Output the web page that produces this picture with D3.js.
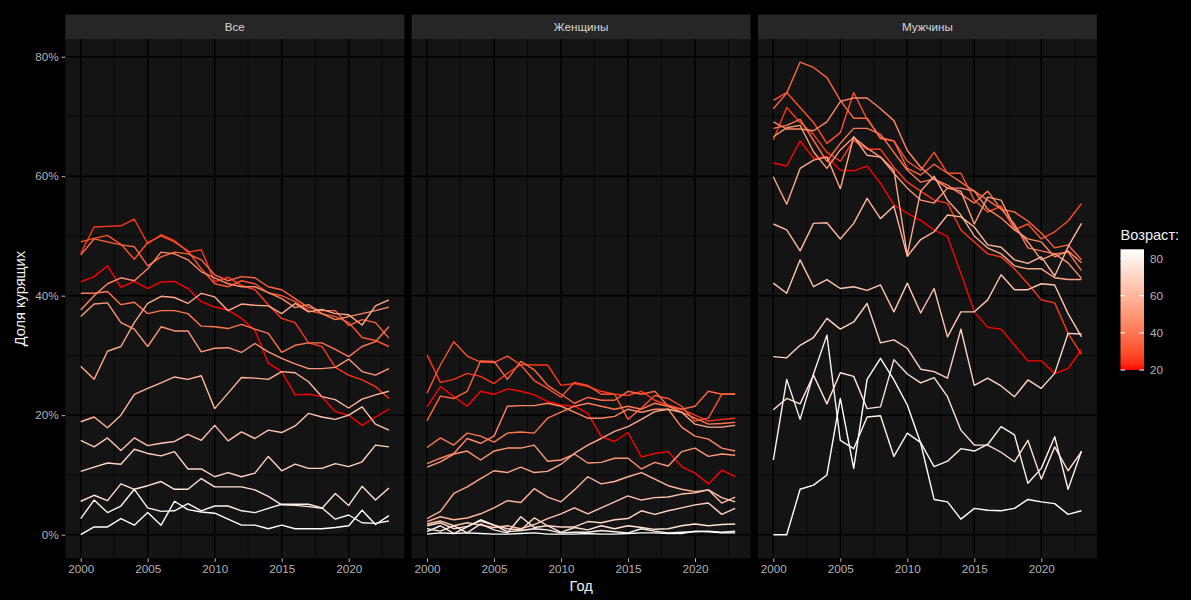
<!DOCTYPE html>
<html><head><meta charset="utf-8">
<script src="https://cdn.jsdelivr.net/npm/d3@7"></script>
<style>body{margin:0;background:#000}svg{display:block}</style>
</head><body><svg id="c" width="1191" height="600"></svg>
<script>
// ---------- DATA ----------
const years = d3.range(2000, 2024);
const ages = [20,25,30,35,40,45,50,55,60,65,70,75,80,85];
const panelNames = ["Все","Женщины","Мужчины"];
const xTickYears = [2000,2005,2010,2015,2020];
const yTickValues = [0,0.2,0.4,0.6,0.8];
const legendTicks = [20,40,60,80];

// share of smokers, %, one row per age group (20..85), 2000..2023
const allSmokers = [
 [42.3,43.2,45.0,41.4,42.4,41.2,42.3,42.4,41.2,39.0,38.1,37.6,36.2,34.2,28.7,27.3,23.4,23.5,23.1,20.6,20.0,18.3,19.7,21.0],
 [47.1,51.5,51.6,51.7,52.8,48.7,50.2,49.2,47.3,47.7,42.3,43.1,41.7,41.0,38.5,36.2,35.5,32.1,31.5,28.0,26.7,25.9,24.8,22.8],
 [49.0,49.6,50.1,48.6,46.1,48.9,50.0,49.0,47.5,44.5,42.0,41.5,42.5,42.0,40.5,40.0,39.0,37.5,37.0,36.5,35.5,33.0,32.5,31.5],
 [46.8,49.5,49.0,48.5,48.2,45.0,46.5,47.3,47.0,46.0,43.5,42.5,43.2,43.0,41.5,41.0,39.5,38.0,37.5,37.5,35.0,36.0,35.5,32.9],
 [40.4,40.4,40.7,38.5,38.9,37.0,37.5,37.5,37.0,34.9,34.8,34.5,35.2,34.4,33.7,30.5,31.7,32.1,32.1,31.0,29.8,31.5,32.3,34.8],
 [37.6,40.0,42.0,43.0,42.5,44.5,47.3,47.0,46.0,44.0,43.0,42.0,41.5,41.5,40.5,39.5,38.0,38.5,37.0,36.0,36.5,37.0,37.5,38.1],
 [36.5,38.6,38.8,35.5,34.4,31.5,34.8,34.1,34.1,30.6,31.2,31.3,30.5,32.0,30.6,29.5,28.6,27.8,27.8,28.0,29.4,27.3,26.7,27.8],
 [28.2,26.0,30.7,31.5,35.5,38.7,39.9,39.7,38.7,40.4,39.8,37.5,38.6,38.4,38.3,37.0,38.7,37.3,37.7,37.0,36.8,35.1,38.3,39.3],
 [18.9,19.7,17.9,20.0,23.5,24.5,25.4,26.4,26.0,26.6,21.1,23.7,26.3,26.2,26.0,27.3,27.1,25.6,23.1,22.6,21.2,22.7,23.4,24.0],
 [15.8,14.7,16.2,14.1,16.2,14.9,15.3,15.6,16.8,15.8,18.3,15.7,17.2,16.1,17.5,17.1,18.2,20.3,19.7,19.3,20.0,21.4,18.5,17.5],
 [10.6,11.3,12.0,11.8,14.3,13.6,13.2,13.9,11.0,11.0,9.7,10.4,9.7,10.3,13.1,10.7,11.8,11.1,11.1,11.9,11.4,12.2,15.0,14.7],
 [5.6,6.6,5.7,8.5,7.6,8.2,8.9,7.6,7.6,9.4,8.0,8.0,8.0,7.5,6.4,5.0,4.9,4.7,4.4,6.9,4.9,8.1,5.8,7.8],
 [2.7,5.8,3.7,4.8,7.6,4.5,3.9,4.0,5.2,4.0,4.8,4.8,4.0,3.7,4.4,5.1,5.1,5.1,4.5,2.6,3.3,2.0,1.9,2.3],
 [0.0,1.3,1.3,2.7,1.6,3.7,1.6,5.6,4.2,3.8,3.6,2.6,1.6,1.6,1.0,1.6,1.0,1.0,1.0,1.2,1.5,4.1,1.7,3.2]
];
const womenSmokers = [
 [21.4,24.8,23.1,21.5,24.0,23.5,24.4,24.0,23.4,22.3,21.7,21.5,20.3,16.4,15.6,17.1,13.0,13.6,13.9,11.4,10.3,8.5,10.8,9.7],
 [30.1,25.5,26.0,27.0,26.5,25.3,27.0,28.5,28.4,28.4,25.0,25.3,24.8,24.0,23.5,23.3,24.0,22.5,21.7,21.0,20.0,19.0,19.3,19.5],
 [23.7,28.4,32.3,29.9,28.9,28.8,29.9,28.4,25.8,24.5,23.0,25.5,25.0,23.5,23.5,19.3,21.2,23.3,22.8,21.5,19.0,19.5,23.5,23.6],
 [19.1,23.2,22.8,24.0,29.1,29.0,26.0,29.0,27.6,25.0,23.5,22.0,23.0,22.5,22.5,24.0,23.5,24.0,21.5,21.0,21.5,24.0,23.5,23.5],
 [14.6,16.2,15.0,17.0,16.5,15.5,17.0,17.2,17.0,19.5,20.5,21.5,22.0,21.5,21.0,21.5,21.0,22.0,21.5,20.5,19.5,18.5,18.6,18.8],
 [11.9,12.8,13.6,16.1,15.3,16.5,21.5,21.6,21.6,22.0,21.5,20.5,19.5,19.5,19.8,21.0,20.5,21.0,21.0,18.0,16.5,16.0,14.5,14.0],
 [11.3,12.2,13.5,14.0,12.5,14.0,14.5,14.5,15.0,12.3,12.5,13.5,12.0,12.1,12.8,12.8,11.0,12.1,11.5,13.9,14.5,13.1,13.5,13.3],
 [2.7,3.9,6.9,8.0,9.4,10.7,10.4,11.3,10.4,10.6,11.8,13.6,15.0,16.1,17.3,18.1,19.3,20.6,21.0,20.5,18.5,18.0,18.0,18.3],
 [2.2,3.0,2.5,2.8,3.5,4.5,5.7,5.4,7.7,6.3,5.5,7.5,9.7,8.5,8.9,9.7,10.4,9.3,8.2,7.6,7.2,7.5,5.3,6.3],
 [1.8,2.3,1.5,2.0,1.6,1.2,1.5,1.0,1.7,2.7,3.5,4.5,3.5,4.5,5.5,6.5,5.8,6.2,6.3,6.8,7.0,7.5,6.2,5.5],
 [1.5,2.0,1.0,1.4,2.3,1.6,1.0,0.8,2.8,1.5,1.3,1.3,2.2,2.0,2.5,2.7,4.0,3.4,4.0,4.5,5.0,5.3,3.4,4.4],
 [1.0,0.6,1.5,0.3,1.8,0.8,0.3,3.0,1.2,1.5,0.4,1.2,0.8,1.5,1.0,1.5,1.2,0.9,1.0,1.5,1.8,1.5,1.7,1.8],
 [0.5,1.5,0.2,1.3,2.5,1.6,0.5,0.7,1.0,0.8,0.3,0.4,0.4,0.7,0.5,0.3,1.0,0.6,0.3,0.4,0.5,0.6,0.4,0.6],
 [0.1,0.3,0.2,0.3,0.2,0.1,0.1,0.2,0.3,0.1,0.1,0.1,0.2,0.1,0.1,0.2,0.3,0.3,0.2,0.2,0.6,0.5,0.3,0.3]
];
const menSmokers = [
 [62.2,61.7,65.9,63.0,63.3,61.0,60.9,61.7,58.8,55.2,53.8,52.6,51.0,49.9,43.7,37.3,34.7,34.4,31.7,29.1,29.1,27.0,27.8,31.0],
 [66.1,71.5,69.0,67.0,64.0,62.5,66.0,64.5,64.5,61.5,59.0,57.5,56.0,55.5,51.0,49.0,47.0,46.5,44.5,42.0,39.3,38.8,33.7,30.2],
 [72.7,74.0,71.5,69.0,65.5,67.3,74.0,69.5,66.5,65.9,62.5,61.0,64.0,60.5,60.5,56.0,54.0,55.0,51.0,52.0,49.5,50.7,52.5,55.4],
 [71.3,73.9,79.1,78.2,76.5,72.7,69.7,69.7,66.3,65.9,61.3,60.2,62.0,60.5,59.0,57.5,56.0,54.5,54.0,52.5,50.5,48.0,48.5,46.0],
 [68.0,68.5,69.5,66.0,62.5,65.5,68.0,68.0,67.0,64.0,61.0,59.0,59.5,58.5,57.0,55.5,57.5,54.5,52.0,48.0,47.5,47.0,47.3,44.2],
 [69.1,67.9,67.9,67.6,69.1,72.5,73.1,73.1,71.3,69.3,64.3,61.5,59.5,58.0,58.0,57.5,54.5,53.0,51.0,49.5,49.0,46.5,47.5,45.5],
 [66.6,68.1,68.5,64.1,61.3,64.4,66.5,64.7,63.2,60.5,58.0,56.0,55.5,58.0,57.5,52.0,56.5,56.0,51.5,49.0,46.0,47.0,45.5,42.9],
 [59.9,55.3,61.3,62.7,63.2,57.9,66.6,63.5,63.2,61.0,46.8,57.5,60.0,56.0,53.5,50.0,48.0,47.0,45.0,44.5,44.5,43.0,42.7,42.7],
 [52.0,51.0,47.5,52.1,52.2,49.5,52.1,56.3,52.9,55.0,46.6,49.4,50.7,53.5,53.2,51.5,48.5,48.1,46.0,45.4,46.5,43.3,48.2,52.1],
 [42.1,40.4,46.0,41.5,42.7,41.2,41.5,40.9,41.8,37.3,42.1,37.1,41.2,33.1,37.3,37.3,39.3,43.5,41.0,41.0,42.0,41.8,37.0,33.1],
 [29.8,29.6,31.7,33.0,36.2,34.4,35.6,38.7,32.1,32.6,31.2,27.7,27.3,26.2,34.4,25.0,26.2,24.9,23.1,25.9,24.5,27.0,33.7,33.6],
 [20.9,22.8,21.9,26.7,21.9,27.1,26.5,21.1,21.4,29.3,26.9,25.4,26.3,23.1,17.5,15.0,15.0,13.8,12.2,15.8,9.3,14.7,10.7,13.9],
 [12.5,26.0,19.3,26.9,33.4,15.8,14.4,19.7,19.9,13.1,17.0,15.4,11.4,12.3,14.4,14.0,15.1,18.1,16.7,8.6,11.1,16.4,7.6,14.0],
 [0.0,0.0,7.6,8.3,10.0,22.8,11.1,26.0,29.5,25.9,21.7,15.3,5.9,5.5,2.6,4.4,4.1,4.0,4.4,5.9,5.5,5.2,3.4,4.0]
];
const panelData = [allSmokers, womenSmokers, menSmokers];

// ---------- LAYOUT ----------
const svg = d3.select("#c");
const W = 1191, H = 600;
svg.append("rect").attr("width",W).attr("height",H).attr("fill","#000");

const font = "'Liberation Sans', Arial, Helvetica, sans-serif";
const panelTop = 39, panelBottom = 558.3;
const stripTop = 14.5;
const firstLeft = 65.3, panelW = 339, gap = 7.3;

const y = d3.scaleLinear().domain([0, 0.8]).range([534.7, 56.7]);
const colour = d3.scaleLinear().domain([20, 85]).range(["#ff0000", "#ffffff"]).interpolate(d3.interpolateLab);

panelNames.forEach((name, p) => {
  const x0 = firstLeft + p * (panelW + gap);
  const x = d3.scaleLinear().domain([1998.85, 2024.15]).range([x0, x0 + panelW]);
  const g = svg.append("g");

  g.append("rect").attr("x", x0).attr("y", stripTop).attr("width", panelW).attr("height", panelTop - stripTop).attr("fill", "#262626");
  g.append("text").attr("x", x0 + panelW/2).attr("y", (stripTop + panelTop)/2 + 4)
    .attr("text-anchor","middle").attr("fill","#d6d6d6").attr("font-family",font).attr("font-size","11.7px").text(name);

  g.append("rect").attr("x", x0).attr("y", panelTop).attr("width", panelW).attr("height", panelBottom - panelTop).attr("fill", "#141414");

  const minorX = xTickYears.map(v => v + 2.5);
  const minorY = [0.1,0.3,0.5,0.7];
  g.selectAll(".mx").data(minorX).enter().append("line")
    .attr("x1", d => x(d)).attr("x2", d => x(d)).attr("y1", panelTop).attr("y2", panelBottom)
    .attr("stroke","#050505").attr("stroke-width",0.7);
  g.selectAll(".my").data(minorY).enter().append("line")
    .attr("x1", x0).attr("x2", x0 + panelW).attr("y1", d => y(d)).attr("y2", d => y(d))
    .attr("stroke","#050505").attr("stroke-width",0.7);
  g.selectAll(".Mx").data(xTickYears).enter().append("line")
    .attr("x1", d => x(d)).attr("x2", d => x(d)).attr("y1", panelTop).attr("y2", panelBottom)
    .attr("stroke","#000").attr("stroke-width",1.4);
  g.selectAll(".My").data(yTickValues).enter().append("line")
    .attr("x1", x0).attr("x2", x0 + panelW).attr("y1", d => y(d)).attr("y2", d => y(d))
    .attr("stroke","#000").attr("stroke-width",1.4);

  const xAxis = d3.axisBottom(x).tickValues(xTickYears).tickFormat(d3.format("d")).tickSize(3.7).tickPadding(3);
  const ax = g.append("g").attr("transform", `translate(0,${panelBottom})`).call(xAxis);
  ax.select(".domain").remove();
  ax.selectAll("line").attr("stroke","#b3b3b3");
  ax.selectAll("text").attr("fill","#b3b3b3").attr("font-family",font).attr("font-size","11.7px");

  if (p === 0) {
    const yAxis = d3.axisLeft(y).tickValues(yTickValues).tickFormat(d3.format(".0%")).tickSize(3.7).tickPadding(3);
    const ay = g.append("g").attr("transform", `translate(${x0},0)`).call(yAxis);
    ay.select(".domain").remove();
    ay.selectAll("line").attr("stroke","#b3b3b3");
    ay.selectAll("text").attr("fill","#b3b3b3").attr("font-family",font).attr("font-size","11.7px");
  }

  const line = d3.line().x((d,i) => x(years[i])).y(d => y(d/100));
  const clipId = "clip" + p;
  svg.append("clipPath").attr("id", clipId).append("rect").attr("x", x0).attr("y", panelTop).attr("width", panelW).attr("height", panelBottom - panelTop);
  g.append("g").attr("clip-path", `url(#${clipId})`).selectAll("path").data(panelData[p]).enter().append("path")
    .attr("d", d => line(d)).attr("fill","none")
    .attr("stroke", (d,i) => colour(ages[i])).attr("stroke-width",1.4).attr("stroke-linejoin","round");
});

svg.append("text").attr("x", (firstLeft + firstLeft + 3*panelW + 2*gap)/2).attr("y", 591)
  .attr("text-anchor","middle").attr("fill","#f0f0f0").attr("font-family",font).attr("font-size","14.6px").text("Год");
svg.append("text").attr("transform", `translate(25,${(panelTop+panelBottom)/2}) rotate(-90)`)
  .attr("text-anchor","middle").attr("fill","#f0f0f0").attr("font-family",font).attr("font-size","14.6px").text("Доля курящих");

const lgX = 1120.5, lgW = 23.5, lgTop = 249.3, lgBot = 370;
svg.append("text").attr("x", lgX).attr("y", 240).attr("fill","#f0f0f0").attr("font-family",font).attr("font-size","14.6px").text("Возраст:");
const grad = svg.append("defs").append("linearGradient").attr("id","lg").attr("x1",0).attr("x2",0).attr("y1",1).attr("y2",0);
d3.range(0, 1.0001, 0.05).forEach(t => {
  grad.append("stop").attr("offset", t).attr("stop-color", colour(20 + t*65));
});
svg.append("rect").attr("x", lgX).attr("y", lgTop).attr("width", lgW).attr("height", lgBot - lgTop).attr("fill","url(#lg)");
const ly = d3.scaleLinear().domain([20,85]).range([lgBot, lgTop]);
const lgAxis = d3.axisRight(ly).tickValues(legendTicks).tickSize(0).tickPadding(lgW + 6);
const la = svg.append("g").attr("transform", `translate(${lgX},0)`).call(lgAxis);
la.select(".domain").remove();
la.selectAll("text").attr("fill","#b3b3b3").attr("font-family",font).attr("font-size","11.7px");
svg.selectAll(".lt").data(legendTicks).enter().append("g").each(function(d){
  const gg = d3.select(this);
  gg.append("line").attr("x1", lgX).attr("x2", lgX + 4.7).attr("y1", ly(d)).attr("y2", ly(d)).attr("stroke","#fff").attr("stroke-width",1);
  gg.append("line").attr("x1", lgX + lgW - 4.7).attr("x2", lgX + lgW).attr("y1", ly(d)).attr("y2", ly(d)).attr("stroke","#fff").attr("stroke-width",1);
});
</script>
</body></html>
